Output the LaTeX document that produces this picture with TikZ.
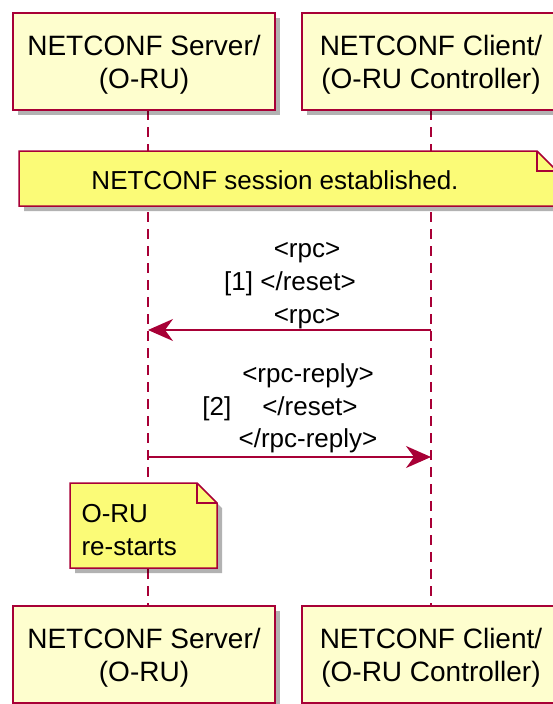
\documentclass[tikz,border=0pt]{standalone}
\usepackage{fontspec}
\setmainfont{Liberation Sans}
\usetikzlibrary{arrows.meta,shadows}
\definecolor{umlred}{HTML}{A80036}
\definecolor{umlbox}{HTML}{FEFECE}
\definecolor{umlnote}{HTML}{FBFB77}

\begin{document}
\begin{tikzpicture}[x=1pt,y=-1pt,
    actor/.style={draw=umlred,fill=umlbox,line width=1.5pt,minimum height=97pt,
        align=center,font=\fontsize{28}{33}\selectfont,text depth=0pt,
        drop shadow={shadow xshift=5pt,shadow yshift=-5pt,fill=black,opacity=0.3}},
    lifeline/.style={umlred,line width=1.2pt,dash pattern=on 10pt off 7pt},
    msg/.style={umlred,line width=1.5pt,-{Stealth[length=25pt,width=22pt,inset=8pt]}},
    msgtext/.style={align=center,font=\fontsize{26}{33}\selectfont},
    notebox/.style={draw=umlred,fill=umlnote,line width=1.5pt},
    noteshadow/.style={fill=black,opacity=0.3,xshift=5pt,yshift=-5pt}]
        \useasboundingbox (0,0) rectangle (552,704);
        % lifelines
        \coordinate (srvtop) at (148,110);
        \coordinate (srvbot) at (148,606);
        \coordinate (ctltop) at (431,110);
        \coordinate (ctlbot) at (431,606);
        \draw[lifeline] (srvtop) -- (srvbot);
        \draw[lifeline] (ctltop) -- (ctlbot);
        % participants
        \node[actor,minimum width=262pt] (srvhead) at (144,61.5) {NETCONF Server/\\(O-RU)};
        \node[actor,minimum width=258pt] (ctlhead) at (431,61.5) {NETCONF Client/\\(O-RU Controller)};
        \node[actor,minimum width=262pt] (srvfoot) at (144,654.5) {NETCONF Server/\\(O-RU)};
        \node[actor,minimum width=258pt] (ctlfoot) at (431,654.5) {NETCONF Client/\\(O-RU Controller)};
        % note over both
        \fill[noteshadow] (19,151) -- (537,151) -- (557,171) -- (557,206) -- (19,206) -- cycle;
        \draw[notebox] (19,151) -- (537,151) -- (557,171) -- (557,206) -- (19,206) -- cycle;
        \draw[umlred,line width=1.5pt] (537,151) -- (537,171) -- (557,171);
        \node[msgtext] (session) at (275,180) {NETCONF session established.};
        % reset request
        \coordinate (srvreq) at (148,330);
        \coordinate (ctlreq) at (431,330);
        \node[msgtext,anchor=base] (reqtop) at (307,257) {<rpc>};
        \node[msgtext,anchor=base] (reqmid) at (290,290) {[1] </reset>};
        \node[msgtext,anchor=base] (reqbot) at (307,323) {<rpc>};
        \draw[msg] (ctlreq) -- (srvreq);
        % reset reply
        \coordinate (srvrep) at (148,457);
        \coordinate (ctlrep) at (431,457);
        \node[msgtext,anchor=base] (reptop) at (308,382) {<rpc-reply>};
        \node[msgtext,anchor=base] (repmid) at (280,415) {[2]\hspace{31pt}</reset>};
        \node[msgtext,anchor=base] (repbot) at (308,447) {</rpc-reply>};
        \draw[msg] (srvrep) -- (ctlrep);
        % note on server
        \fill[noteshadow] (70,483) -- (197,483) -- (217,503) -- (217,568) -- (70,568) -- cycle;
        \draw[notebox] (70,483) -- (197,483) -- (217,503) -- (217,568) -- (70,568) -- cycle;
        \draw[umlred,line width=1.5pt] (197,483) -- (197,503) -- (217,503);
        \node[msgtext,align=left,anchor=west] (restart) at (78,530) {O-RU\\re-starts};
\end{tikzpicture}
\end{document}
